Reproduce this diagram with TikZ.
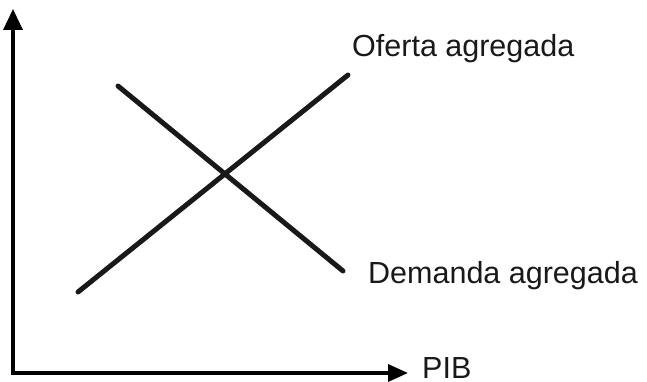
\documentclass[tikz,border=0pt]{standalone}
\usepackage{fontspec}
\setmainfont{Liberation Sans}
\usetikzlibrary{arrows.meta}
\tikzstyle{axis} = [line width=3.5pt, {Triangle[length=21pt,width=19pt]}-{Triangle[length=20pt,width=17pt]}]
\tikzstyle{curve} = [line width=5pt, line cap=round, black!90]
\tikzstyle{curvelabel} = [anchor=base west, inner sep=0pt, text=black!90, font=\fontsize{30.5}{36}\selectfont]

\begin{document}
\begin{tikzpicture}[x=1pt,y=-1pt]
	\useasboundingbox (0,0) rectangle (647,382);
	% ejes
	\coordinate (ytop) at (13,9);
	\coordinate (origin) at (13,373);
	\coordinate (xend) at (408,373);
	\draw[axis] (ytop) -- (origin) -- (xend);
	\node [curvelabel, text depth=0pt] (pib) at (422,378.5) {PIB};
	% curvas
	\coordinate (oa start) at (78,292);
	\coordinate (oa end) at (348,75);
	\coordinate (da start) at (118,86);
	\coordinate (da end) at (343,271);
	\draw[curve] (oa start) -- (oa end);
	\draw[curve] (da start) -- (da end);
	\node [curvelabel] (oferta) at (352,57) {Oferta agregada};
	\node [curvelabel] (demanda) at (368,283) {Demanda agregada};
\end{tikzpicture}
\end{document}
